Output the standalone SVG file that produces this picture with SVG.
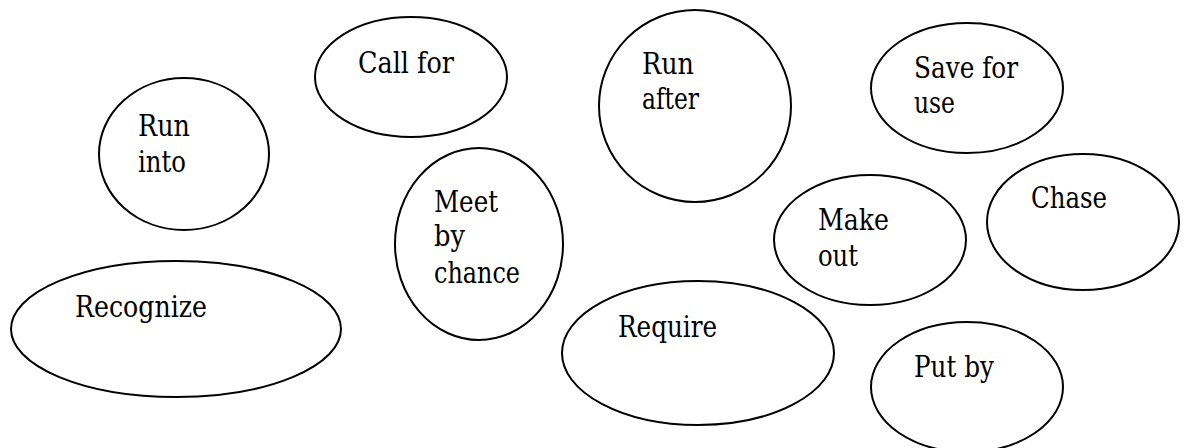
<svg xmlns="http://www.w3.org/2000/svg" width="1189" height="448" viewBox="0 0 1189 448">
<style>
.n ellipse{fill:#fff;stroke:#000;stroke-width:2}
.n text{font-family:'DejaVu Serif','Liberation Serif',serif;font-size:29px;fill:#000}
</style>
<rect width="1189" height="448" fill="#fff"/>
<g id="connectors"></g>
<g id="run-into" class="n"><ellipse cx="184" cy="154" rx="85" ry="76"/><text x="138" y="136" textLength="52" lengthAdjust="spacingAndGlyphs">Run</text><text x="138" y="172" textLength="48" lengthAdjust="spacingAndGlyphs">into</text></g>
<g id="call-for" class="n"><ellipse cx="411" cy="77" rx="96" ry="60"/><text x="358" y="73" textLength="96" lengthAdjust="spacingAndGlyphs">Call for</text></g>
<g id="meet-by-chance" class="n"><ellipse cx="479" cy="244" rx="84" ry="96"/><text x="434" y="212" textLength="64" lengthAdjust="spacingAndGlyphs">Meet</text><text x="434" y="246" textLength="31" lengthAdjust="spacingAndGlyphs">by</text><text x="434" y="283" textLength="86" lengthAdjust="spacingAndGlyphs">chance</text></g>
<g id="recognize" class="n"><ellipse cx="176" cy="329" rx="165" ry="68"/><text x="75" y="317" textLength="132" lengthAdjust="spacingAndGlyphs">Recognize</text></g>
<g id="run-after" class="n"><ellipse cx="695" cy="106" rx="96" ry="96"/><text x="642" y="74" textLength="52" lengthAdjust="spacingAndGlyphs">Run</text><text x="642" y="109" textLength="57" lengthAdjust="spacingAndGlyphs">after</text></g>
<g id="require" class="n"><ellipse cx="698" cy="353" rx="136" ry="72"/><text x="618" y="337" textLength="99" lengthAdjust="spacingAndGlyphs">Require</text></g>
<g id="save-for-use" class="n"><ellipse cx="967" cy="88" rx="96" ry="65"/><text x="914" y="78" textLength="104" lengthAdjust="spacingAndGlyphs">Save for</text><text x="914" y="113" textLength="41" lengthAdjust="spacingAndGlyphs">use</text></g>
<g id="make-out" class="n"><ellipse cx="870" cy="240" rx="96" ry="65"/><text x="818" y="230" textLength="71" lengthAdjust="spacingAndGlyphs">Make</text><text x="818" y="266" textLength="40" lengthAdjust="spacingAndGlyphs">out</text></g>
<g id="chase" class="n"><ellipse cx="1083" cy="222" rx="96" ry="68"/><text x="1031" y="208" textLength="76" lengthAdjust="spacingAndGlyphs">Chase</text></g>
<g id="put-by" class="n"><ellipse cx="967" cy="387" rx="96" ry="65"/><text x="914" y="377" textLength="80" lengthAdjust="spacingAndGlyphs">Put by</text></g>
</svg>
